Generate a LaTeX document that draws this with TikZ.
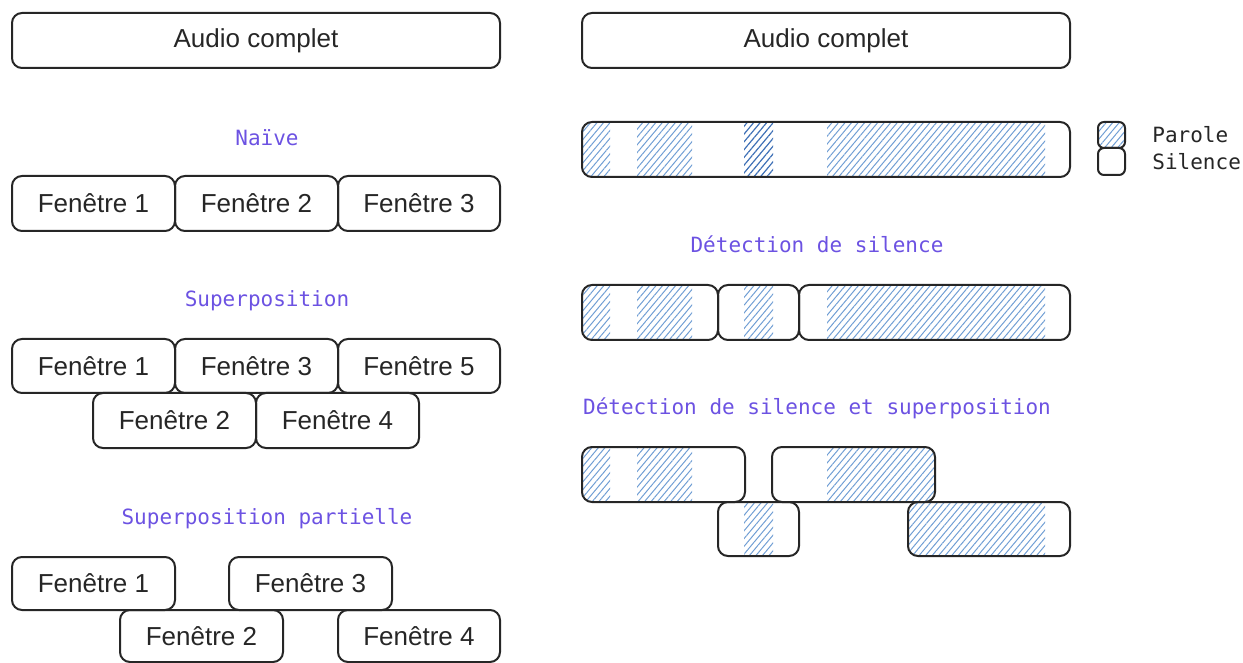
\documentclass[tikz,border=0pt]{standalone}
\usepackage{fontspec}
\setmainfont{Liberation Sans}
\setmonofont{DejaVu Sans Mono}
\usetikzlibrary{fit,patterns.meta}
\definecolor{ink}{RGB}{38,38,38}
\definecolor{violet}{RGB}{108,82,226}
\definecolor{hatchblue}{RGB}{112,158,212}
\definecolor{hatchdark}{RGB}{62,112,182}
\tikzset{
  win/.style={draw=ink, line width=1pt, rounded corners=5pt, inner sep=0pt},
  wintext/.style={font=\fontsize{13}{15}\selectfont, text=ink, inner sep=0pt},
  swatch/.style={win, rounded corners=3pt},
  title/.style={font=\ttfamily\fontsize{10.5}{12}\selectfont, text=violet},
  legendtext/.style={font=\ttfamily\fontsize{10.5}{12}\selectfont, text=ink, anchor=west, inner sep=0pt},
  speech/.style={pattern={Lines[angle=50,distance=2.5pt,line width=0.5pt]}, pattern color=hatchblue},
  speechdark/.style={pattern={Lines[angle=50,distance=2.5pt,line width=0.6pt]}, pattern color=hatchdark},
  roundclip/.style={rounded corners=5pt},
}
\begin{document}
\begin{tikzpicture}[x=0.5pt, y=-0.5pt]
\useasboundingbox (0,0) rectangle (1243,663);

% ---------- speech zones (hatched), clipped to their windows ----------
% full signal bar
\begin{scope}
  \clip[roundclip] (582,122) rectangle (1070,177);
  \path[speech] (582,122) rectangle (610,177);
  \path[speech] (637,122) rectangle (692,177);
  \path[speechdark] (744,122) rectangle (773,177);
  \path[speech] (827,122) rectangle (1045,177);
\end{scope}
% legend swatch
\begin{scope}
  \clip[rounded corners=3pt] (1098,122) rectangle (1125,148);
  \path[speech] (1098,122) rectangle (1125,148);
\end{scope}
% silence detection windows
\begin{scope}
  \clip[roundclip] (582,285) rectangle (718,340);
  \path[speech] (582,285) rectangle (610,340);
  \path[speech] (637,285) rectangle (692,340);
\end{scope}
\begin{scope}
  \clip[roundclip] (718,285) rectangle (799,340);
  \path[speech] (744,285) rectangle (773,340);
\end{scope}
\begin{scope}
  \clip[roundclip] (799,285) rectangle (1070,340);
  \path[speech] (827,285) rectangle (1045,340);
\end{scope}
% silence detection with overlap
\begin{scope}
  \clip[roundclip] (582,447) rectangle (745,502);
  \path[speech] (582,447) rectangle (610,502);
  \path[speech] (637,447) rectangle (692,502);
\end{scope}
\begin{scope}
  \clip[roundclip] (772,447) rectangle (935,502);
  \path[speech] (827,447) rectangle (935,502);
\end{scope}
\begin{scope}
  \clip[roundclip] (718,502) rectangle (799,556);
  \path[speech] (744,502) rectangle (773,556);
\end{scope}
\begin{scope}
  \clip[roundclip] (908,502) rectangle (1070,556);
  \path[speech] (908,502) rectangle (1045,556);
\end{scope}

% ---------- left column ----------
\node[win, fit={(12,13) (500,68)}, label={[wintext]center:Audio complet}] (audL) {};

\node[title] (tNaive) at (267,138) {Naïve};
\node[win, fit={(12,176) (175,231)}, label={[wintext]center:Fenêtre 1}] (n1) {};
\node[win, fit={(175,176) (338,231)}, label={[wintext]center:Fenêtre 2}] (n2) {};
\node[win, fit={(338,176) (500,231)}, label={[wintext]center:Fenêtre 3}] (n3) {};

\node[title] (tSup) at (267,301) {Superposition};
\node[win, fit={(12,339) (175,393)}, label={[wintext]center:Fenêtre 1}] (s1) {};
\node[win, fit={(175,339) (338,393)}, label={[wintext]center:Fenêtre 3}] (s3) {};
\node[win, fit={(338,339) (500,393)}, label={[wintext]center:Fenêtre 5}] (s5) {};
\node[win, fit={(93,393) (256,448)}, label={[wintext]center:Fenêtre 2}] (s2) {};
\node[win, fit={(256,393) (419,448)}, label={[wintext]center:Fenêtre 4}] (s4) {};

\node[title] (tPart) at (267,519) {Superposition partielle};
\node[win, fit={(12,557) (175,610)}, label={[wintext]center:Fenêtre 1}] (p1) {};
\node[win, fit={(229,557) (392,610)}, label={[wintext]center:Fenêtre 3}] (p3) {};
\node[win, fit={(120,610) (283,662)}, label={[wintext]center:Fenêtre 2}] (p2) {};
\node[win, fit={(338,610) (500,662)}, label={[wintext]center:Fenêtre 4}] (p4) {};

% ---------- right column ----------
\node[win, fit={(582,13) (1070,68)}, label={[wintext]center:Audio complet}] (audR) {};

\node[win, fit={(582,122) (1070,177)}] (bar) {};
\node[swatch, fit={(1098,122) (1125,148)}] (lgSpeech) {};
\node[swatch, fit={(1098,148) (1125,175)}] (lgSilence) {};
\node[legendtext] (lgParole) at (1152,135) {Parole};
\node[legendtext] (lgSilenceTxt) at (1152,162) {Silence};

\node[title] (tDet) at (817,244) {Détection de silence};
\node[win, fit={(582,285) (718,340)}] (d1) {};
\node[win, fit={(718,285) (799,340)}] (d2) {};
\node[win, fit={(799,285) (1070,340)}] (d3) {};

\node[title] (tDetSup) at (817,408) {Détection de silence et superposition};
\node[win, fit={(582,447) (745,502)}] (o1) {};
\node[win, fit={(772,447) (935,502)}] (o2) {};
\node[win, fit={(718,502) (799,556)}] (o3) {};
\node[win, fit={(908,502) (1070,556)}] (o4) {};
\end{tikzpicture}
\end{document}
